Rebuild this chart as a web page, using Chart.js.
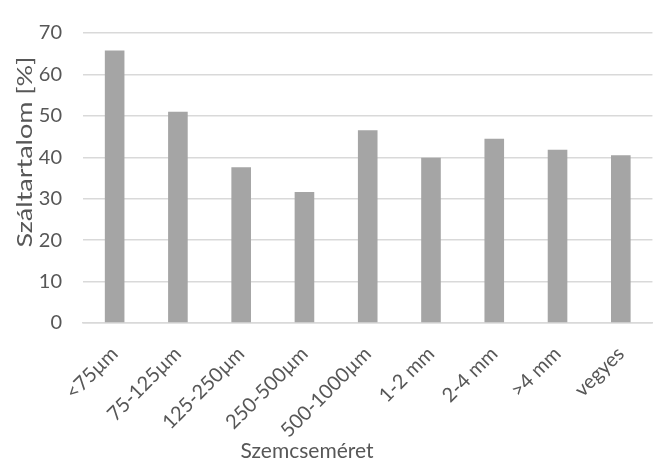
<!DOCTYPE html>
<html>
<head>
<meta charset="utf-8">
<script src="https://cdn.jsdelivr.net/npm/chart.js@4/dist/chart.umd.min.js"></script>
<style>
  html, body { margin: 0; padding: 0; background: #ffffff; }
  #wrap { width: 657px; height: 464px; position: relative; }
</style>
</head>
<body>
<div id="wrap"><canvas id="c" width="657" height="464"></canvas></div>
<script>
// Grain size classes and fibre content (%)
const categories = ['<75µm', '75-125µm', '125-250µm', '250-500µm', '500-1000µm', '1-2 mm', '2-4 mm', '>4 mm', 'vegyes'];
const fibreContent = [65.8, 51.0, 37.6, 31.6, 46.5, 39.9, 44.5, 41.8, 40.5];
const yTicks = [0, 10, 20, 30, 40, 50, 60, 70];
const xTitle = 'Szemcseméret';
const yTitle = 'Száltartalom [%]';

const FONT = 'Lato, "Open Sans", sans-serif';
const TEXT = '#575757';

// Axis titles drawn beside the axes
const axisTitles = {
  id: 'axisTitles',
  afterDraw(chart) {
    const ctx = chart.ctx;
    ctx.save();
    ctx.fillStyle = TEXT;
    ctx.font = '21px ' + FONT;
    ctx.textAlign = 'center';
    ctx.textBaseline = 'middle';
    ctx.fillText(xTitle, 307, 451);
    ctx.translate(25, 152);
    ctx.rotate(-Math.PI / 2);
    // the vertical title runs a little wider than the horizontal one
    const w = ctx.measureText(yTitle).width;
    ctx.scale(191 / w, 1);
    ctx.fillText(yTitle, 0, 0);
    ctx.restore();
  }
};

new Chart(document.getElementById('c'), {
  type: 'bar',
  data: {
    labels: categories,
    datasets: [{
      data: fibreContent,
      backgroundColor: '#a5a5a5',
      borderWidth: 0,
      categoryPercentage: 1,
      barPercentage: 0.31
    }]
  },
  options: {
    responsive: false,
    animation: false,
    events: [],
    layout: { padding: { top: 22, right: 4, left: 0, bottom: 0 } },
    plugins: { legend: { display: false }, tooltip: { enabled: false } },
    scales: {
      x: {
        grid: { display: false, drawTicks: false },
        border: { display: true, color: '#d9d9d9', width: 1.5 },
        ticks: {
          color: TEXT,
          font: { family: FONT, size: 20 },
          minRotation: 45,
          maxRotation: 45,
          padding: 19,
          autoSkip: false
        },
        afterFit(scale) { scale.height = 141; }
      },
      y: {
        min: 0,
        max: 70,
        afterBuildTicks(scale) { scale.ticks = yTicks.map(v => ({ value: v })); },
        grid: { color: '#d9d9d9', lineWidth: 1.5, drawTicks: false },
        border: { display: false },
        ticks: {
          color: TEXT,
          font: { family: FONT, size: 20 },
          padding: 21
        },
        afterFit(scale) { scale.width = 83; }
      }
    }
  },
  plugins: [axisTitles]
});
</script>
</body>
</html>
